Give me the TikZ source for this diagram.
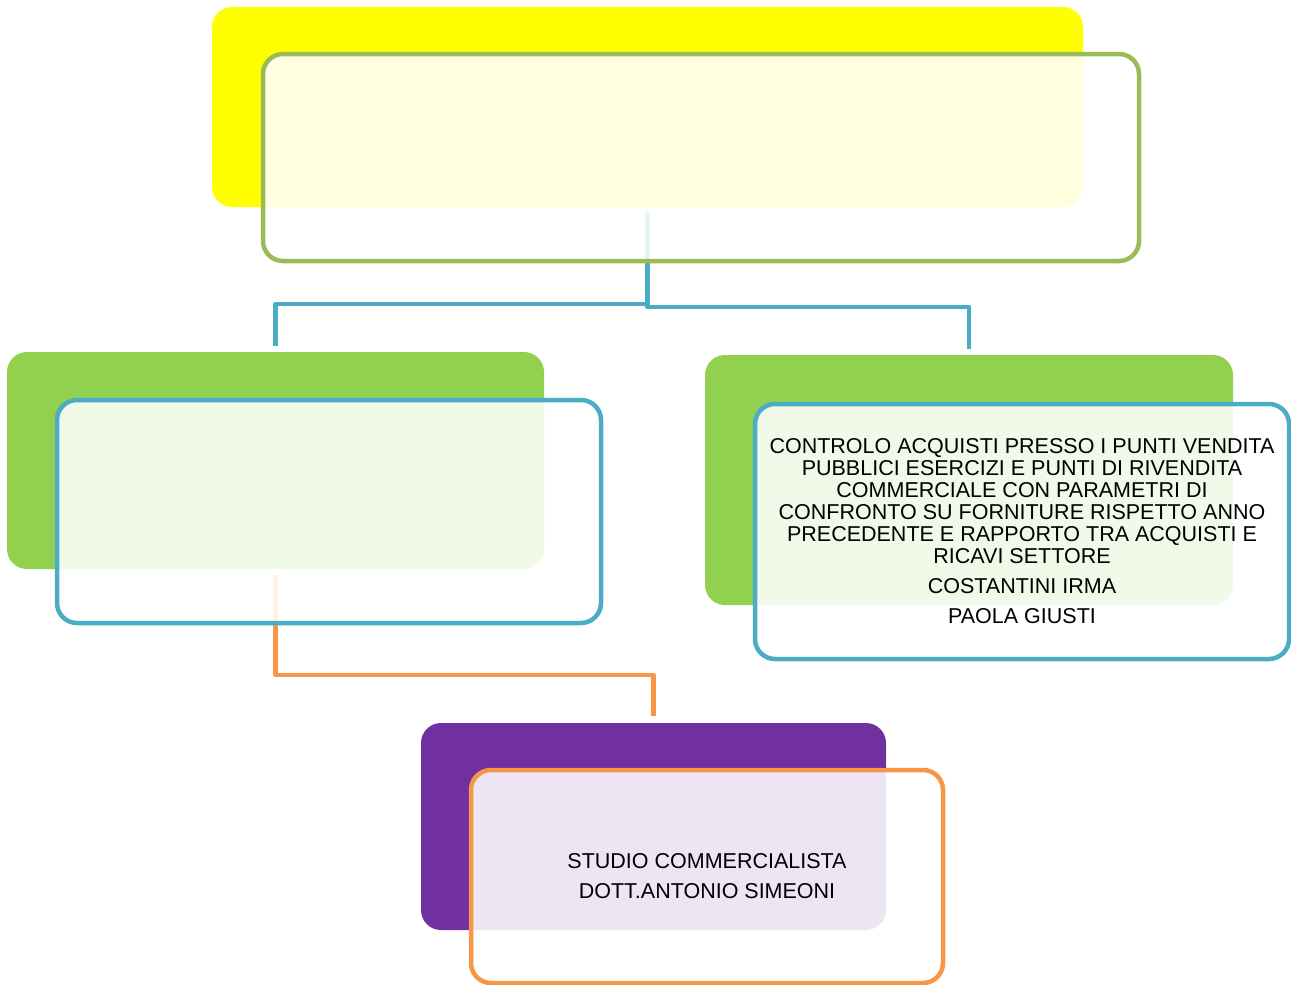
\documentclass[tikz,border=0pt]{standalone}
\usepackage{fontspec}
\setmainfont{Liberation Sans}
\begin{document}
\begin{tikzpicture}[x=1pt,y=-1pt,
  backbox/.style={rectangle, rounded corners=20pt, anchor=north west, inner sep=0pt, outer sep=0pt},
  frontbox/.style={rectangle, rounded corners=20pt, anchor=north west, inner sep=0pt, outer sep=0pt,
    fill=white, fill opacity=0.88, text opacity=1, line width=4.5pt},
  conn/.style={line width=4.5pt, line join=round},
  label/.style={font=\fontsize{21.5}{22}\selectfont, align=center, text=black}]
\definecolor{cyellow}{HTML}{FFFF00}
\definecolor{cgreenline}{HTML}{9BBB59}
\definecolor{cblue}{HTML}{4BACC6}
\definecolor{cgreen}{HTML}{92D050}
\definecolor{cpurple}{HTML}{7030A0}
\definecolor{corange}{HTML}{F79646}
\useasboundingbox (0,0) rectangle (1291,985);

% coloured back boxes
\node[backbox, fill=cyellow, minimum width=871pt, minimum height=200pt] (topback) at (212,7) {};
\node[backbox, fill=cgreen, minimum width=537pt, minimum height=217pt] (leftback) at (7,352) {};
\node[backbox, fill=cgreen, minimum width=528pt, minimum height=250pt] (rightback) at (705,355) {};
\node[backbox, fill=cpurple, minimum width=465pt, minimum height=207pt] (botback) at (421,723) {};

% connectors
\draw[conn, cblue] ([yshift=-5pt]topback.south) |- ([yshift=48pt]leftback.north) -- ([yshift=6pt]leftback.north);
\draw[conn, cblue] ([yshift=-5pt]topback.south) |- ([yshift=48pt]rightback.north) -- ([yshift=6pt]rightback.north);
\draw[conn, corange] ([yshift=-6pt]leftback.south) |- ([yshift=48pt]botback.north) -- ([yshift=7pt]botback.north);

% outlined front boxes
\node[frontbox, draw=cgreenline, minimum width=876pt, minimum height=207pt] (topfront) at (263,54) {};
\node[frontbox, draw=cblue, minimum width=544pt, minimum height=223pt] (leftfront) at (57,400) {};
\node[frontbox, draw=cblue, minimum width=534pt, minimum height=255pt] (rightfront) at (755,404) {};
\node[frontbox, draw=corange, minimum width=472pt, minimum height=213pt] (botfront) at (471,770) {};

% texts
\node[label] (righttext) at (rightfront.center) {CONTROLO ACQUISTI PRESSO I PUNTI VENDITA\\
PUBBLICI ESERCIZI E PUNTI DI RIVENDITA\\
COMMERCIALE CON PARAMETRI DI\\
CONFRONTO SU FORNITURE RISPETTO ANNO\\
PRECEDENTE E RAPPORTO TRA ACQUISTI E\\
RICAVI SETTORE\\[8pt]
COSTANTINI IRMA\\[8pt]
PAOLA GIUSTI};
\node[label] (bottext) at (botfront.center) {STUDIO COMMERCIALISTA\\[8pt]
DOTT.ANTONIO SIMEONI};
\end{tikzpicture}
\end{document}
